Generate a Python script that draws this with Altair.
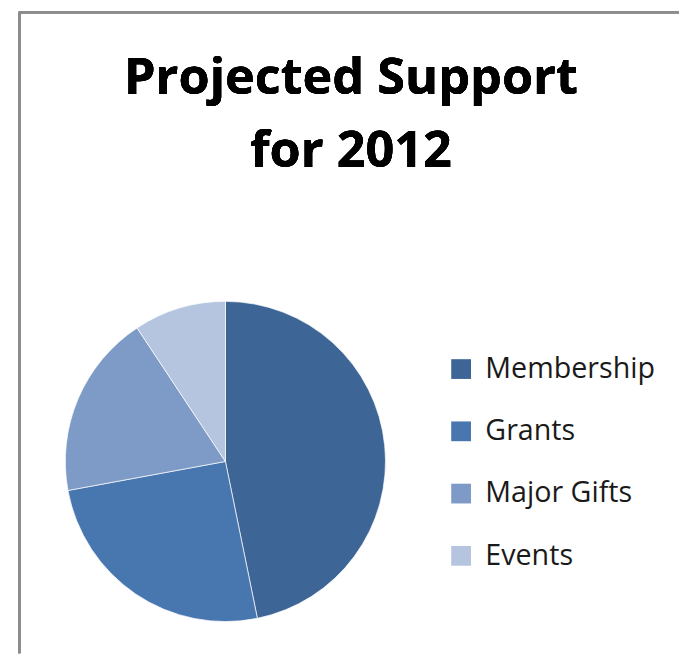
import altair as alt
import pandas as pd

categories = ["Membership", "Grants", "Major Gifts", "Events"]
values = [46.8, 25.3, 18.6, 9.3]
colors = ["#3D6596", "#4876AF", "#7E9BC7", "#B5C4DF"]
title_lines = ["Projected Support", "for 2012"]

df = pd.DataFrame({"category": categories, "value": values, "idx": list(range(len(categories)))})

W, H = 679, 649
FONT = "Open Sans"

pie = alt.Chart(df).mark_arc(radius=162, stroke="white", strokeWidth=0.7).encode(
    theta=alt.Theta("value:Q", stack=True),
    order=alt.Order("idx:Q"),
    color=alt.Color(
        "category:N",
        scale=alt.Scale(domain=categories, range=colors),
        sort=categories,
        legend=alt.Legend(
            title=None,
            orient="none",
            legendX=444,
            legendY=347,
            symbolType="square",
            symbolSize=400,
            symbolStrokeWidth=0,
            labelFont=FONT,
            labelFontSize=29,
            labelLimit=400,
            labelColor="#1a1a1a",
            labelOffset=10,
            rowPadding=33,
            padding=0,
        ),
    ),
    x=alt.value(220),
    y=alt.value(455),
)

t1 = alt.Chart(df).mark_text(
    text=title_lines[0], font=FONT, fontWeight="bold", fontSize=51,
    baseline="alphabetic", align="center", color="black"
).encode(x=alt.value(347), y=alt.value(83))
t2 = alt.Chart(df).mark_text(
    text=title_lines[1], font=FONT, fontWeight="bold", fontSize=51,
    baseline="alphabetic", align="center", color="black"
).encode(x=alt.value(347), y=alt.value(157))

top_line = alt.Chart(df).mark_rule(color="#8c8c8c", strokeWidth=2.5).encode(
    x=alt.value(11.5), x2=alt.value(W), y=alt.value(0.5)
)
left_line = alt.Chart(df).mark_rule(color="#8c8c8c", strokeWidth=2.5).encode(
    x=alt.value(11.5), y=alt.value(0), y2=alt.value(H)
)

chart = alt.layer(pie, t1, t2, top_line, left_line).properties(
    width=W, height=H, padding=0, autosize=alt.AutoSizeParams(type="none")
).configure_view(strokeWidth=0)

chart.save("out.html", embed_options={"renderer": "svg", "actions": False})
